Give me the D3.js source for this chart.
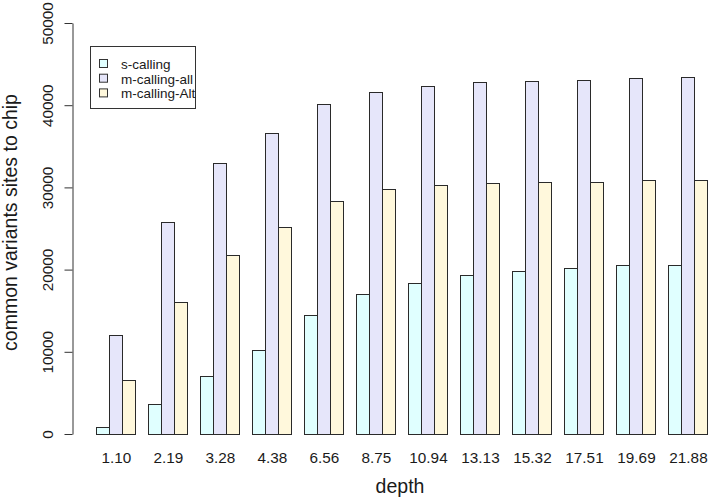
<!DOCTYPE html>
<html>
<head>
<meta charset="utf-8">
<script src="https://cdn.jsdelivr.net/npm/d3@7"></script>
<style>
  html, body { margin: 0; padding: 0; background: #fff; }
  svg { display: block; font-family: "Liberation Sans", Arial, sans-serif; }
</style>
</head>
<body>
<svg id="chart" width="709" height="498"></svg>
<script>
const categories = ["1.10","2.19","3.28","4.38","6.56","8.75","10.94","13.13","15.32","17.51","19.69","21.88"];
const seriesNames = ["s-calling","m-calling-all","m-calling-Alt"];
const sCalling    = [900, 3600, 7000, 10200, 14500, 17000, 18400, 19300, 19800, 20200, 20500, 20600];
const mCallingAll = [12000, 25800, 33000, 36600, 40100, 41600, 42300, 42800, 43000, 43100, 43300, 43400];
const mCallingAlt = [6600, 16000, 21800, 25200, 28400, 29800, 30300, 30500, 30700, 30700, 30900, 30900];
const yTicks = [0, 10000, 20000, 30000, 40000, 50000];
const colors = ["#E0FFFF", "#E6E6FA", "#FFF8DC"];

const seriesValues = [sCalling, mCallingAll, mCallingAlt];
const svg = d3.select("#chart");

const x = d3.scaleBand().domain(categories).range([83, 720]).paddingInner(0.25).paddingOuter(0.25);
const xs = d3.scaleBand().domain(seriesNames).range([0, x.bandwidth()]).padding(0);
const y = d3.scaleLinear().domain([0, 50000]).range([434, 23]);

// bars
const groups = svg.append("g").selectAll("g").data(categories).join("g")
  .attr("transform", d => `translate(${x(d)},0)`);
groups.selectAll("rect")
  .data((d, i) => seriesNames.map((s, k) => ({ s, k, v: seriesValues[k][i] })))
  .join("rect")
  .attr("x", d => xs(d.s) + 0.5)
  .attr("width", xs.bandwidth())
  .attr("y", d => Math.round(y(d.v)) + 0.5)
  .attr("height", d => Math.round(y(0)) - Math.round(y(d.v)))
  .attr("fill", d => colors[d.k])
  .attr("stroke", "#2a2a2a")
  .attr("stroke-width", 1);

// x labels (no axis line)
svg.append("g").selectAll("text").data(categories).join("text")
  .attr("x", d => x(d) + x.bandwidth() / 2 + 1)
  .attr("y", 463)
  .attr("text-anchor", "middle")
  .attr("font-size", 15.3)
  .attr("fill", "#1a1a1a")
  .text(d => d);

// y axis
const yAxis = svg.append("g")
  .attr("transform", "translate(72.5,0)")
  .call(d3.axisLeft(y).tickValues(yTicks).tickSize(8).tickSizeOuter(0).tickFormat(d3.format("d")));
yAxis.select(".domain").attr("stroke", "#333");
yAxis.selectAll(".tick line").attr("stroke", "#333");
yAxis.selectAll(".tick text")
  .attr("font-size", 15.3)
  .attr("font-family", "'Liberation Sans', Arial, sans-serif")
  .attr("fill", "#1a1a1a")
  .attr("text-anchor", "middle")
  .attr("transform", "translate(-19.5,0) rotate(-90)")
  .attr("x", 0)
  .attr("dy", 0)
  .attr("y", 0);

// axis titles
svg.append("text")
  .attr("transform", "translate(17,222.5) rotate(-90)")
  .attr("text-anchor", "middle")
  .attr("font-size", 19.5)
  .attr("fill", "#1a1a1a")
  .text("common variants sites to chip");
svg.append("text")
  .attr("x", 400)
  .attr("y", 493)
  .attr("text-anchor", "middle")
  .attr("font-size", 19.5)
  .attr("fill", "#1a1a1a")
  .text("depth");

// legend
const lg = svg.append("g");
lg.append("rect").attr("x", 90.5).attr("y", 46.5).attr("width", 105).attr("height", 62)
  .attr("fill", "#fff").attr("stroke", "#333");
const items = lg.selectAll("g.item").data(seriesNames).join("g").attr("class", "item")
  .attr("transform", (d, i) => `translate(0,${64 + i * 14.7})`);
items.append("rect").attr("x", 99.5).attr("y", -4.5).attr("width", 8).attr("height", 8)
  .attr("fill", (d, i) => colors[i]).attr("stroke", "#333");
items.append("text").attr("x", 121).attr("y", 4.8)
  .attr("font-size", 13.5).attr("fill", "#1a1a1a").text(d => d);
</script>
</body>
</html>
